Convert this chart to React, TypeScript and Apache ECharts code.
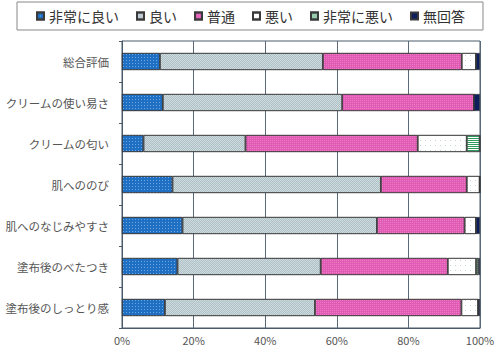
import React, { useEffect, useRef } from "react";
import * as echarts from "echarts";

const categories = [
  "総合評価",
  "クリームの使い易さ",
  "クリームの匂い",
  "肌へののび",
  "肌へのなじみやすさ",
  "塗布後のべたつき",
  "塗布後のしっとり感",
];
const seriesNames = ["非常に良い", "良い", "普通", "悪い", "非常に悪い", "無回答"];
const veryGood = [10.6, 11.4, 6.0, 14.1, 16.9, 15.5, 12.0];
const good = [45.5, 50.1, 28.5, 58.2, 54.3, 40.0, 41.9];
const normal = [38.8, 36.8, 48.1, 24.0, 24.5, 35.5, 40.9];
const bad = [4.0, 0, 13.7, 3.6, 3.2, 7.9, 4.7];
const veryBad = [0, 0, 3.6, 0, 0, 0.6, 0];
const noAnswer = [1.1, 1.7, 0.3, 0.1, 1.1, 0.5, 0.5];
const xTicks = [0, 20, 40, 60, 80, 100];

const FONT = '"Noto Sans CJK JP", "Noto Sans", sans-serif';

export default function App() {
  const ref = useRef<HTMLDivElement>(null);
  useEffect(() => {
    if (!ref.current) return;
    const chart = echarts.init(ref.current, null, { renderer: "svg" });
    const dataSets = [veryGood, good, normal, bad, veryBad, noAnswer];
    const styles: any[] = [
      {
        color: "#1f6fc2",
        decal: { symbol: "rect", symbolSize: 1, color: "rgba(170,210,255,0.55)", dashArrayX: [1, 2], dashArrayY: [1, 2] },
      },
      {
        color: "#cddbde",
        decal: { symbol: "rect", symbolSize: 1, color: "rgba(120,140,150,0.35)", dashArrayX: [[1, 1], [0, 1, 1, 0]], dashArrayY: [1, 0] },
      },
      {
        color: "#e05cb4",
        decal: { symbol: "rect", symbolSize: 1, color: "rgba(255,160,215,0.45)", dashArrayX: [1, 1], dashArrayY: [1, 1] },
      },
      {
        color: "#ffffff",
        decal: { symbol: "rect", symbolSize: 1, color: "rgba(110,150,150,0.4)", dashArrayX: [1, 4], dashArrayY: [1, 4] },
      },
      {
        color: "#ffffff",
        decal: { symbol: "rect", symbolSize: 1, color: "#2f9a5e", dashArrayX: [1, 0], dashArrayY: [1, 1] },
      },
      { color: "#0c1f5c" },
    ];
    chart.setOption({
      animation: false,
      legend: {
        data: seriesNames,
        icon: "rect",
        left: 17,
        top: 2,
        width: 463,
        padding: [7, 18, 7, 19],
        borderColor: "#888",
        borderWidth: 1,
        itemWidth: 7,
        itemHeight: 7,
        itemGap: 17,
        textStyle: { fontFamily: FONT, fontSize: 14, color: "#333" },
      },
      grid: {
        left: 122,
        right: 20,
        top: 41,
        bottom: 22,
        show: true,
        borderColor: "#4a5a6a",
        borderWidth: 1,
        containLabel: false,
      },
      xAxis: {
        type: "value",
        min: 0,
        max: 100,
        interval: 20,
        axisLine: { show: true, lineStyle: { color: "#4a5a6a" } },
        axisTick: { show: false },
        splitLine: { show: true, lineStyle: { color: "#5a6a7a", width: 1 } },
        axisLabel: {
          formatter: (v: number) => (xTicks.includes(v) ? v + "%" : ""),
          fontFamily: FONT,
          fontSize: 11,
          color: "#555",
          margin: 6,
        },
      },
      yAxis: {
        type: "category",
        data: categories,
        inverse: true,
        axisLine: { show: true, lineStyle: { color: "#4a5a6a" } },
        axisTick: { show: true, length: 3, lineStyle: { color: "#4a5a6a" } },
        axisLabel: { fontFamily: FONT, fontSize: 11.5, color: "#555", margin: 13 },
      },
      series: seriesNames.map((name, i) => ({
        name,
        type: "bar",
        stack: "total",
        barWidth: 17,
        data: dataSets[i],
        itemStyle: { ...styles[i], borderColor: "#3a3a3a", borderWidth: 0.7 },
        emphasis: { disabled: true },
      })),
    });
    return () => chart.dispose();
  }, []);
  return <div ref={ref} style={{ width: 500, height: 350, position: "absolute", left: 0, top: 0 }} />;
}
